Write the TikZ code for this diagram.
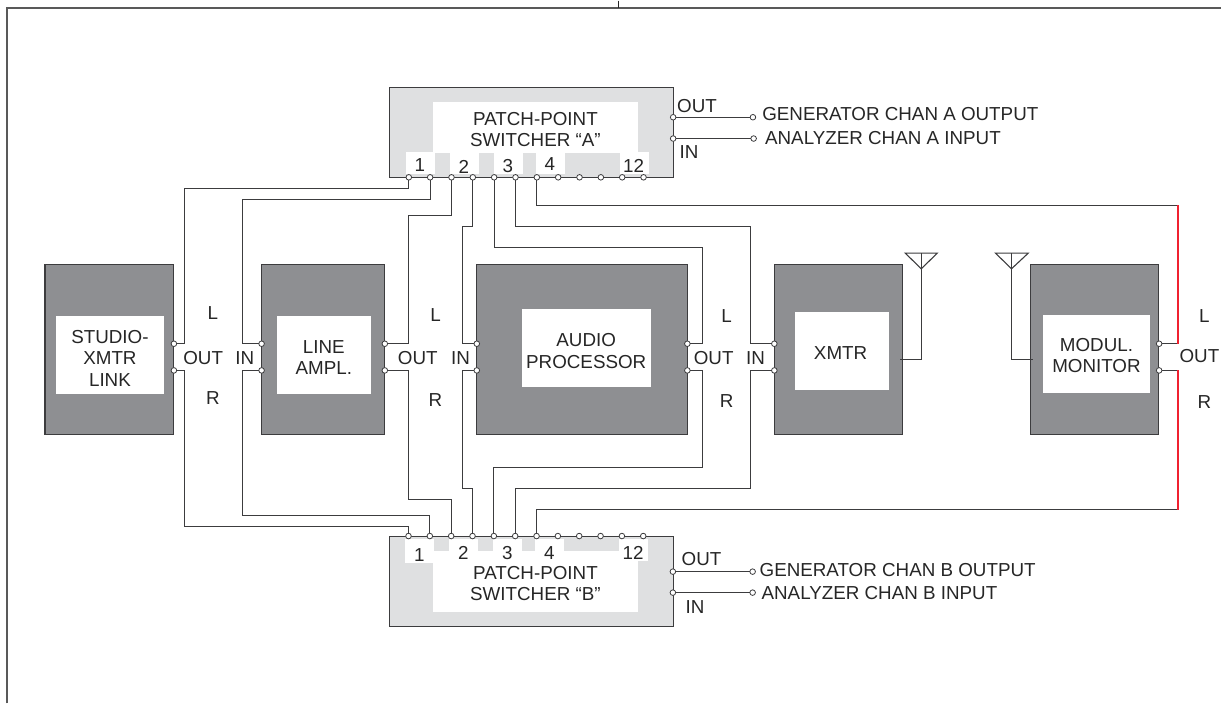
\documentclass[tikz,border=0pt]{standalone}
\usepackage{xcolor}
\usepackage{fontspec}
\setmainfont{Liberation Sans}
\usetikzlibrary{positioning}
\definecolor{blockgray}{HTML}{8E8F92}
\definecolor{panelgray}{HTML}{DFE0E1}
\definecolor{wiredark}{HTML}{3C3C3E}
\definecolor{wirered}{rgb}{0.94,0.13,0.19}

\begin{document}
\begin{tikzpicture}[
  x=1pt, y=-1pt,
  every node/.style={outer sep=0pt, inner sep=0pt},
  lbl/.style={font=\fontsize{18.8}{21}\selectfont, text=black!85, align=center},
  block/.style={draw=wiredark, line width=1.1pt, fill=blockgray, minimum width=128pt, minimum height=170.5pt},
  switcher/.style={draw=wiredark, line width=1.1pt, fill=panelgray, minimum width=283.5pt, minimum height=90pt},
  panel/.style={fill=white},
  tab/.style={fill=white},
  pin/.style={circle, draw=wiredark, fill=white, line width=0.8pt, minimum size=5.6pt},
  wire/.style={draw=wiredark, line width=1.1pt},
  redwire/.style={color=wirered, line width=1.8pt},
]
% page edge
\draw[draw=black!65, line width=1.2pt] (7,703) -- (7,7.5) -- (1222,7.5);
\draw[draw=black!85, line width=1.2pt] (619,0) -- (619,7.5);

% processing chain
\node[block, minimum width=129pt] (studio) at (109.5,349) {};
\node[block, right=87.7pt of studio, minimum width=123.3pt] (lineamp) {};
\node[block, right=92pt of lineamp, minimum width=210.7pt] (audio) {};
\node[block, right=87pt of audio] (xmtr) {};
\node[block, right=128.3pt of xmtr, minimum width=128.3pt] (monitor) {};

\node[panel, minimum width=108pt, minimum height=77.7pt] (studiobg) at (110,354.8) {};
\node[panel, minimum width=94pt, minimum height=78pt] (linebg) at (324,355) {};
\node[panel, minimum width=129pt, minimum height=78pt] (audiobg) at (586.5,348) {};
\node[panel, minimum width=94pt, minimum height=78pt] (xmtrbg) at (842,351) {};
\node[panel, minimum width=108pt, minimum height=77.7pt] (monitorbg) at (1097,353.8) {};

\node[lbl, font=\fontsize{18.8}{22}\selectfont] (studiotxt) at (110,358) {STUDIO-\\XMTR\\LINK};
\node[lbl] (linetxt) at (324,357) {LINE\\AMPL.};
\node[lbl, font=\fontsize{18.8}{22}\selectfont] (audiotxt) at (586.5,351) {AUDIO\\PROCESSOR};
\node[lbl] (xmtrtxt) at (841,353) {XMTR};
\node[lbl] (monitortxt) at (1097,355.5) {MODUL.\\MONITOR};

% switchers
\node[switcher] (swa) at (531.7,132) {};
\node[switcher] (swb) at (531.7,581) {};
\node[panel, minimum width=205pt, minimum height=51pt] (swabg) at (535.5,126.5) {};
\node[panel, minimum width=205pt, minimum height=61pt] (swbbg) at (535.5,581.5) {};
\node[lbl] (swatxt) at (535.7,128.5) {PATCH-POINT\\SWITCHER “A”};
\node[lbl] (swbtxt) at (535.7,583.5) {PATCH-POINT\\SWITCHER “B”};

\foreach \txt/\xa/\ya/\ha/\ytxt in {1/420.5/162/22/165, 2/464.5/162.5/21/166, 3/508.5/162.5/21/166, 4/550.5/162.5/21/164, 12/634.5/162/22/165} {
  \node[tab, minimum width=29pt, minimum height=\ha pt] (taba\txt) at (\xa,\ya) {};
  \node[lbl] (numa\txt) at (\xa-0.5,\ytxt) {\txt};
}
\foreach \txt/\xa/\yb/\hb/\ytxt in {1/419.5/550.6/24.2/555, 2/463.5/545.2/13.5/553, 3/507.5/545.2/13.5/553, 4/549.5/545.2/13.5/553, 12/633.5/549.8/22.5/553} {
  \node[tab, minimum width=29pt, minimum height=\hb pt] (tabb\txt) at (\xa,\yb) {};
  \node[lbl] (numb\txt) at (\xa,\ytxt) {\txt};
}

% L/R pins
\foreach \name/\xp in {sl/174, ll/261.7, ml/385, al/477, pl/687.7, xl/774.7, nl/1159.7} {
  \node[pin] (\name) at (\xp,343.3) {};
}
\foreach \name/\xp in {sr/174, lr/261.7, mr/385, ar/477, pr/687.7, xr/774.7, nr/1159.7} {
  \node[pin] (\name) at (\xp,370) {};
}
\foreach \i in {1,...,12} {
  \node[pin] (pa\i) at ({409+21.35*(\i-1)},176.8) {};
  \node[pin] (pb\i) at ({408.7+21.35*(\i-1)},535.7) {};
}
\node[pin] (aout) at (673.5,116.7) {};
\node[pin] (ain) at (673.5,138) {};
\node[pin] (bout) at (673.2,571.3) {};
\node[pin] (bin) at (673.2,592.3) {};
\node[pin] (gena) at (753.3,116.7) {};
\node[pin] (anaa) at (754,138) {};
\node[pin] (genb) at (753,571.3) {};
\node[pin] (anab) at (753,592.3) {};

\draw[wire] (aout) -- (gena);
\draw[wire] (ain) -- (anaa);
\draw[wire] (bout) -- (genb);
\draw[wire] (bin) -- (anab);

% switcher A to chain
\draw[wire] (pa1) |- (184.3,188.3) |- (sl);
\draw[wire] (pa2) |- (243,199) |- (ll);
\draw[wire] (pa3) |- (408.7,215.3) |- (ml);
\draw[wire] (pa4) |- (462.3,226) |- (al);
\draw[wire] (pa5) |- (702.7,247.3) |- (pl);
\draw[wire] (pa6) |- (750.7,226) |- (xl);
% switcher B to chain
\draw[wire] (pb1) |- (184.3,525.7) |- (sr);
\draw[wire] (pb2) |- (243,515) |- (lr);
\draw[wire] (pb3) |- (408.7,499) |- (mr);
\draw[wire] (pb4) |- (462.3,487.7) |- (ar);
\draw[wire] (pb5) |- (702.7,466.7) |- (pr);
\draw[wire] (pb6) |- (750.7,487.7) |- (xr);

% monitor feed
\coordinate (rtop) at (1178.5,204.7);
\coordinate (rup) at (1178.5,343.3);
\coordinate (rlow) at (1178.5,370);
\coordinate (rbot) at (1178.5,509.3);
\draw[wire] (pa7) |- (rtop);
\draw[wire] (rup) -- (nl);
\draw[wire] (pb7) |- (rbot);
\draw[wire] (rlow) -- (nr);
\draw[redwire] (rtop) -- (rup);
\draw[redwire] (rbot) -- (rlow);

% antennas
\coordinate (xtip) at (921.7,268.3);
\coordinate (xfeed) at (900,359.3);
\draw[wire] (905.7,252.7) -- (937.7,252.7) -- (xtip) -- cycle;
\draw[wire] (921.7,252.7) -- (xtip) |- (xfeed);
\coordinate (mtip) at (1012,268.3);
\coordinate (mfeed) at (1033,359.3);
\draw[wire] (996,252.7) -- (1028.7,252.7) -- (mtip) -- cycle;
\draw[wire] (1012,252.7) -- (mtip) |- (mfeed);

% channel labels
\foreach \name/\xa/\ya/\txt in {
  l1/213/312.7/L, o1/203.3/357.5/OUT, i1/245/357.5/IN, r1/213/398/R,
  l2/435.7/315/L, o2/418/357.5/OUT, i2/460.7/357.5/IN, r2/435.7/400/R,
  l3/727/316/L, o3/714/357.5/OUT, i3/756/357.5/IN, r3/727/401/R,
  l4/1205/316/L, o4/1200/355.7/OUT, r4/1205/401.7/R} {
  \node[lbl] (\name) at (\xa,\ya) {\txt};
}
\node[lbl, anchor=west] (aoutl) at (677.5,105) {OUT};
\node[lbl, anchor=west] (ainl) at (680,152) {IN};
\node[lbl, anchor=west] (boutl) at (682,559) {OUT};
\node[lbl, anchor=west] (binl) at (686,606.7) {IN};
\node[lbl, anchor=west] (genat) at (762.7,113.3) {GENERATOR CHAN A OUTPUT};
\node[lbl, anchor=west] (anaat) at (765.5,137.3) {ANALYZER CHAN A INPUT};
\node[lbl, anchor=west] (genbt) at (760,570) {GENERATOR CHAN B OUTPUT};
\node[lbl, anchor=west] (anabt) at (762,592.7) {ANALYZER CHAN B INPUT};

\useasboundingbox (0,0) rectangle (1222,703);
\end{tikzpicture}
\end{document}
